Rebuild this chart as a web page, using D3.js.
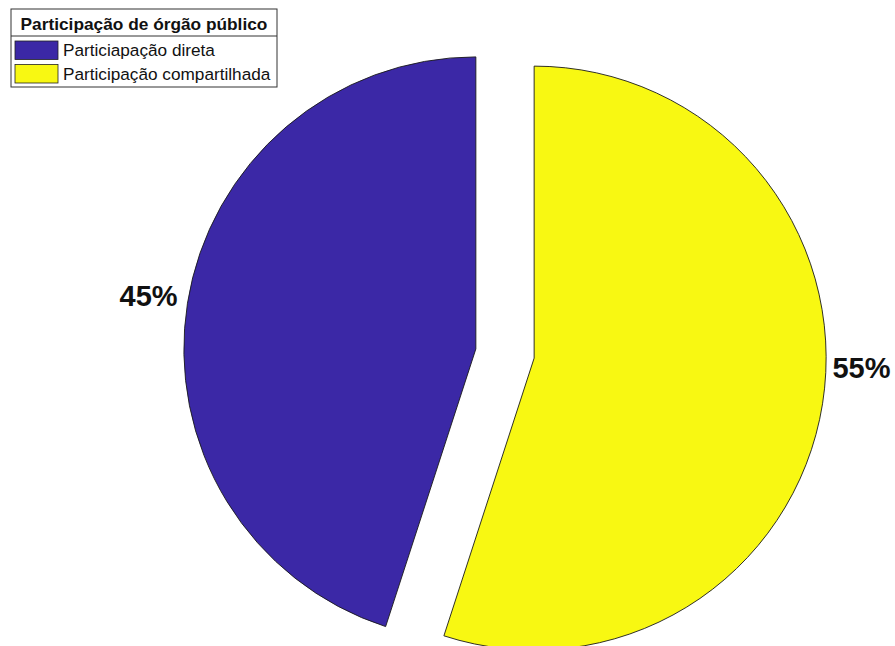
<!DOCTYPE html>
<html>
<head>
<meta charset="utf-8">
<script src="https://cdn.jsdelivr.net/npm/d3@7"></script>
<style>
  html, body { margin: 0; padding: 0; background: #ffffff; }
  svg { display: block; font-family: "Liberation Sans", Arial, Helvetica, sans-serif; }
</style>
</head>
<body>
<svg id="chart" width="895" height="646"></svg>
<script>
// Slice data
const legendTitle = "Participação de órgão público";
const categories = ["Particiapação direta", "Participação compartilhada"];
const values = [45, 55];
const sliceColors = ["#3b28a6", "#f8f812"];

const width = 895, height = 646;
const cx = 505, cy = 353.5;
const radius = 292;
const explode = 29.5;

const svg = d3.select("#chart");
svg.append("rect").attr("width", width).attr("height", height).attr("fill", "#ffffff");

const total = d3.sum(values);
const start = -2 * Math.PI * values[0] / total;

const pie = d3.pie()
  .sort(null)
  .value(d => d.value)
  .startAngle(start)
  .endAngle(start + 2 * Math.PI);

const rows = categories.map((c, i) => ({ name: c, value: values[i], color: sliceColors[i] }));
const arcs = pie(rows);

const arc = d3.arc().innerRadius(0).outerRadius(radius);

const g = svg.append("g").attr("transform", `translate(${cx},${cy})`);

const slices = g.selectAll("g.slice")
  .data(arcs)
  .join("g")
  .attr("class", "slice")
  .attr("transform", d => {
    const m = (d.startAngle + d.endAngle) / 2;
    return `translate(${Math.sin(m) * explode},${-Math.cos(m) * explode})`;
  });

slices.append("path")
  .attr("d", arc)
  .attr("fill", d => d.data.color)
  .attr("stroke", "#1a1a1a")
  .attr("stroke-width", 0.9)
  .attr("stroke-linejoin", "miter");

// Percentage labels just outside each slice
const labelRadius = explode + radius + 10;
g.selectAll("text.pct")
  .data(arcs)
  .join("text")
  .attr("class", "pct")
  .attr("x", d => Math.sin((d.startAngle + d.endAngle) / 2) * labelRadius)
  .attr("y", d => {
    const m = (d.startAngle + d.endAngle) / 2;
    const y = -Math.cos(m) * labelRadius;
    // right-hand label sits nearer the horizontal
    return Math.sin(m) > 0 ? y * 0.28 : y * 1.1;
  })
  .attr("text-anchor", d => Math.sin((d.startAngle + d.endAngle) / 2) < 0 ? "end" : "start")
  .attr("dominant-baseline", "central")
  .attr("font-size", 29)
  .attr("font-weight", "bold")
  .attr("fill", "#111")
  .text(d => Math.round(d.value / total * 100) + "%");

// Legend
const lx = 11, ly = 9, lw = 266;
const legend = svg.append("g").attr("transform", `translate(${lx},${ly})`);
const titleH = 27, rowH = 23.5;
const lh = titleH + rowH * categories.length + 4;

legend.append("rect")
  .attr("width", lw).attr("height", lh)
  .attr("fill", "#ffffff").attr("stroke", "#333").attr("stroke-width", 1);

legend.append("text")
  .attr("x", lw / 2).attr("y", 20.5)
  .attr("text-anchor", "middle")
  .attr("font-size", 17.3).attr("font-weight", "bold").attr("fill", "#111")
  .text(legendTitle);

legend.append("line")
  .attr("x1", 0).attr("x2", lw).attr("y1", titleH).attr("y2", titleH)
  .attr("stroke", "#333").attr("stroke-width", 1);

const items = legend.selectAll("g.item")
  .data(rows)
  .join("g")
  .attr("class", "item")
  .attr("transform", (d, i) => `translate(0,${titleH + 5 + i * rowH})`);

items.append("rect")
  .attr("x", 4).attr("y", 0).attr("width", 43).attr("height", 18.5)
  .attr("fill", d => d.color).attr("stroke", "#222").attr("stroke-width", 0.8);

items.append("text")
  .attr("x", 52).attr("y", 15)
  .attr("font-size", 17.2).attr("fill", "#111")
  .text(d => d.name);
</script>
</body>
</html>
